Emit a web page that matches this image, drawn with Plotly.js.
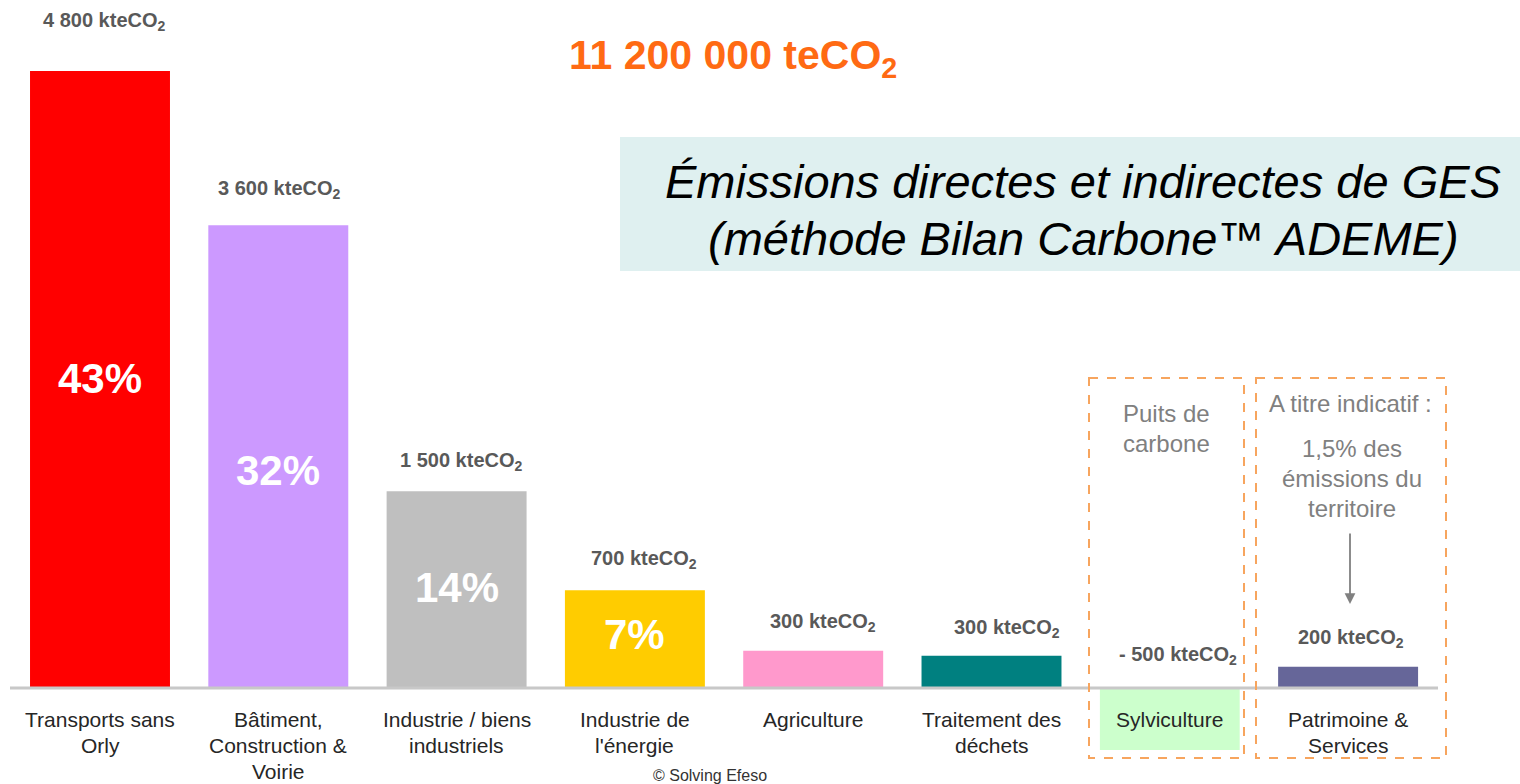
<!DOCTYPE html>
<html><head><meta charset="utf-8">
<script src="https://cdn.plot.ly/plotly-3.0.1.min.js"></script>
<style>html,body{margin:0;padding:0;background:#fff;}#chart{width:1520px;height:784px;}</style>
</head><body><div id="chart"></div>
<script>
// ---- data ----
const categories = [
  ["Transports sans", "Orly"],
  ["Bâtiment,", "Construction &", "Voirie"],
  ["Industrie / biens", "industriels"],
  ["Industrie de", "l'énergie"],
  ["Agriculture"],
  ["Traitement des", "déchets"],
  ["Sylviculture"],
  ["Patrimoine &", "Services"]
];
const barValues = [4800, 3600, 1530, 760, 290, 250, null, 165];
const valueLabels = ["4 800", "3 600", "1 500", "700", "300", "300", "- 500", "200"];
const shareLabels = ["43%", "32%", "14%", "7%", "", "", "", ""];
const barColors = ["#ff0000", "#cc99ff", "#bfbfbf", "#ffcc00", "#ff99cc", "#008080", "#ccffcc", "#666699"];
const totalLabel = "11 200 000 teCO<sub>2</sub>";

// ---- helpers: pixel -> paper ----
const W = 1520, H = 784;
const xp = px => px / W;
const yp = py => 1 - py / H;
const idx = categories.map((_, i) => i);

const FONT = "Liberation Sans, Arial, sans-serif";

const trace = {
  type: "bar",
  x: idx,
  y: barValues,
  width: 0.785,
  marker: {color: barColors, line: {width: 0}},
  hoverinfo: "skip"
};

const annotations = [];
// value labels
const valLabelY = [22, 190, 461, 559, 622, 628, 655, 638];
const valLabelDx = [4, 1, 5, 9, 10, 15, 8, 3];
valueLabels.forEach((t, i) => {
  annotations.push({
    x: i, xref: "x", xshift: valLabelDx[i], y: yp(valLabelY[i]), yref: "paper",
    text: "<b>" + t + " kteCO<sub>2</sub></b>", showarrow: false,
    font: {family: FONT, size: 20, color: "#595959"}, xanchor: "center", yanchor: "middle"
  });
});
// share labels inside bars
const shareY = [378, 470, 587, 634];
shareLabels.forEach((t, i) => {
  if (!t) return;
  annotations.push({
    x: i, xref: "x", y: yp(shareY[i]), yref: "paper", text: "<b>" + t + "</b>", showarrow: false,
    font: {family: FONT, size: 42, color: "#ffffff"}, xanchor: "center", yanchor: "middle"
  });
});
// category labels
const lineY = [719, 745, 771];
categories.forEach((lines, i) => {
  lines.forEach((ln, j) => {
    annotations.push({
      x: i, xref: "x", y: yp(lineY[j]), yref: "paper", text: ln, showarrow: false,
      font: {family: FONT, size: 21, color: "#262626"}, xanchor: "center", yanchor: "middle"
    });
  });
});
// total
annotations.push({x: xp(733), y: yp(58), xref: "paper", yref: "paper", text: "<b>" + totalLabel + "</b>",
  showarrow: false, font: {family: FONT, size: 41, color: "#ff6a13"}, xanchor: "center", yanchor: "middle"});
// subtitle
annotations.push({x: xp(1083), y: yp(181), xref: "paper", yref: "paper", text: "<i>Émissions directes et indirectes de GES</i>",
  showarrow: false, font: {family: FONT, size: 47, color: "#000"}, xanchor: "center", yanchor: "middle"});
annotations.push({x: xp(1083), y: yp(238), xref: "paper", yref: "paper", text: "<i>(méthode Bilan Carbone™ ADEME)</i>",
  showarrow: false, font: {family: FONT, size: 47, color: "#000"}, xanchor: "center", yanchor: "middle"});
// notes
const grey = "#808080";
[["Puits de", 1166, 413], ["carbone", 1166, 443], ["A titre indicatif :", 1350, 404],
 ["1,5% des", 1352, 448], ["émissions du", 1352, 478], ["territoire", 1352, 508]].forEach(a => {
  annotations.push({x: xp(a[1]), y: yp(a[2]), xref: "paper", yref: "paper", text: a[0], showarrow: false,
    font: {family: FONT, size: 24, color: grey}, xanchor: "center", yanchor: "middle"});
});
annotations.push({x: xp(1350), y: yp(604), xref: "paper", yref: "paper", ax: 0, ay: -72, text: "",
  showarrow: true, arrowhead: 2, arrowsize: 1.2, arrowwidth: 1.8, arrowcolor: grey});
annotations.push({x: xp(710), y: yp(775), xref: "paper", yref: "paper", text: "© Solving Efeso", showarrow: false,
  font: {family: FONT, size: 16, color: "#333"}, xanchor: "center", yanchor: "middle"});

const shapes = [
  {type: "rect", xref: "paper", yref: "paper", x0: xp(620), x1: xp(1520), y0: yp(137), y1: yp(271),
   fillcolor: "#dff0f0", line: {width: 0}, layer: "below"},
  {type: "rect", xref: "x", yref: "paper", x0: 6 - 0.392, x1: 6 + 0.392, y0: yp(689), y1: yp(750),
   fillcolor: "#ccffcc", line: {width: 0}, layer: "below"},
  {type: "line", xref: "paper", yref: "y", x0: xp(10), x1: xp(1438), y0: 0, y1: 0,
   line: {color: "#c8c8c8", width: 3}},
  {type: "rect", xref: "paper", yref: "paper", x0: xp(1089), x1: xp(1244), y0: yp(378), y1: yp(758),
   line: {color: "#f7a55e", width: 2, dash: "dash"}},
  {type: "rect", xref: "paper", yref: "paper", x0: xp(1256), x1: xp(1446), y0: yp(378), y1: yp(758),
   line: {color: "#f7a55e", width: 2, dash: "dash"}}
];

const pxPerUnit = 617 / 4800;
const layout = {
  width: W, height: H,
  margin: {l: 0, r: 0, t: 0, b: 0, pad: 0},
  paper_bgcolor: "#fff", plot_bgcolor: "#fff",
  showlegend: false,
  xaxis: {visible: false, range: [-100 / 178.3, (W - 100) / 178.3], fixedrange: true},
  yaxis: {visible: false, range: [-(H - 688) / pxPerUnit, 688 / pxPerUnit], fixedrange: true},
  annotations: annotations,
  shapes: shapes
};

Plotly.newPlot("chart", [trace], layout, {displayModeBar: false, staticPlot: true});
</script>
</body></html>
